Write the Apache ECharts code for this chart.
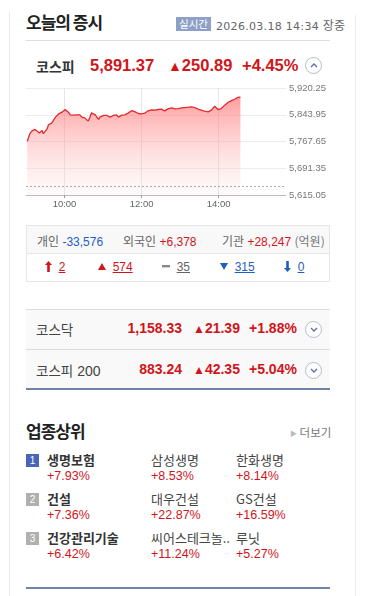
<!DOCTYPE html>
<html><head><meta charset="utf-8">
<script src="https://cdn.jsdelivr.net/npm/echarts@6/dist/echarts.min.js"></script>
<style>
html,body{margin:0;padding:0;background:#fff;}
body{width:366px;height:596px;overflow:hidden;position:relative;font-family:"Liberation Sans","Noto Sans CJK KR",sans-serif;color:#333;}
.a{position:absolute;white-space:nowrap;}
.kr{font-family:"Noto Sans CJK KR",sans-serif;}
.red{color:#d0151b;}
.blue{color:#1f5dc1;}
.circ{position:absolute;width:15px;height:15px;border:1px solid #b5bccb;border-radius:50%;background:#fff;}
.circ svg{position:absolute;left:4px;top:5px;}
u{text-decoration:underline;}
</style></head>
<body>
<div class="a" style="left:9px;top:12px;width:1px;height:584px;background:#ebebeb"></div>
<div class="a" style="left:355px;top:15px;width:1px;height:581px;background:#ebebeb"></div>

<div class="a kr" id="title" style="left:26px;top:9px;font-size:17px;font-weight:bold;color:#222;letter-spacing:-1px"></div>
<div class="a kr" id="badge" style="left:176px;top:17px;width:35px;height:14px;line-height:14px;background:#8ea0c6;color:#fff;font-size:10.5px;text-align:center"></div>
<div class="a" id="stamp" style="left:216px;top:16px;font-size:11px;color:#666;font-family:'DejaVu Sans','Noto Sans CJK KR';letter-spacing:0.3px"></div>
<div class="a" style="left:26px;top:40px;width:304px;height:1px;background:#dedede"></div>

<div class="a kr" id="mainName" style="left:36px;top:56px;font-size:14px;font-weight:bold;color:#333"></div>
<div class="a red" id="mainVal" style="left:90px;top:56px;font-size:16.5px;font-weight:bold"></div>
<div class="a red" id="mainChg" style="left:168px;top:56px;font-size:16.5px;font-weight:bold"></div>
<div class="a red" id="mainPct" style="left:242px;top:56px;font-size:16.5px;font-weight:bold"></div>
<div class="circ" style="left:305px;top:57px"><svg width="8" height="5"><polyline points="1,4 4,1 7,4" fill="none" stroke="#5a6ea8" stroke-width="1.3"/></svg></div>

<div id="chart" class="a" style="left:0;top:80px;width:366px;height:135px"></div>

<div class="a" style="left:26px;top:225px;width:302px;height:55px;border:1px solid #e6e6e6"></div>
<div class="a" style="left:27px;top:226px;width:302px;height:27px;background:#f8f8f8;border-bottom:1px solid #e6e6e6"></div>
<div class="a" id="inv" style="left:37px;top:232px;font-size:12px;color:#666"></div>
<div class="a" id="counts" style="left:27px;top:260px;width:302px;height:18px;font-size:12px"></div>

<div class="a" style="left:26px;top:309px;width:304px;height:80px;background:#f9f9f9;border-top:1px solid #dcdcdc"></div>
<div class="a" style="left:26px;top:349px;width:304px;height:1px;background:#dcdcdc"></div>
<div class="a" style="left:26px;top:388px;width:304px;height:2px;background:#7083a9"></div>
<div id="idxRows"></div>

<div class="a kr" id="secTitle" style="left:26px;top:418px;font-size:17px;font-weight:bold;color:#222;letter-spacing:-1px"></div>
<div class="a kr" style="left:290px;top:424px;font-size:11.5px;color:#777"><span style="font-size:7px;color:#bbb;vertical-align:1px">&#9654;</span> 더보기</div>
<div id="secRows"></div>
<div class="a" style="left:26px;top:587px;width:304px;height:2px;background:#7083a9"></div>

<script>
// ---- KOSPI intraday (time, index) ----
const times = ['09:02','09:04','09:06','09:09','09:12','09:14','09:17','09:21','09:23','09:25','09:27','09:30','09:33','09:35','09:38','09:40','09:43','09:46','09:48','09:51','09:53','09:56','09:58','10:01','10:04','10:06','10:09','10:11','10:14','10:17','10:19','10:22','10:24','10:27','10:30','10:32','10:35','10:37','10:40','10:42','10:45','10:48','10:50','10:53','10:55','10:58','11:01','11:03','11:06','11:08','11:11','11:14','11:16','11:19','11:21','11:24','11:26','11:29','11:32','11:34','11:37','11:39','11:42','11:45','11:47','11:50','11:52','11:55','11:58','12:00','12:03','12:05','12:08','12:10','12:13','12:16','12:18','12:21','12:23','12:26','12:29','12:31','12:34','12:36','12:39','12:41','12:44','12:47','12:49','12:52','12:54','12:57','13:00','13:02','13:05','13:07','13:10','13:13','13:15','13:18','13:20','13:23','13:26','13:28','13:31','13:33','13:36','13:38','13:41','13:44','13:46','13:49','13:51','13:54','13:57','13:59','14:02','14:04','14:07','14:10','14:12','14:15','14:17','14:20','14:22','14:25','14:28','14:30','14:34'];
const kospi = [5768.2,5768.2,5789.9,5797.4,5793.6,5802.2,5799.3,5791.8,5787.0,5799.3,5789.9,5791.8,5804.1,5815.4,5821.1,5820.1,5824.8,5837.1,5841.9,5846.6,5848.5,5851.3,5856.0,5858.9,5857.9,5851.3,5843.7,5848.5,5842.8,5841.9,5843.7,5840.9,5843.7,5837.1,5839.0,5834.3,5830.5,5825.8,5839.0,5849.4,5850.4,5843.7,5840.0,5830.5,5837.1,5842.8,5841.9,5844.7,5841.9,5839.0,5837.1,5835.2,5841.9,5846.6,5843.7,5837.1,5840.0,5842.8,5845.6,5843.7,5846.6,5848.5,5850.4,5856.0,5857.0,5852.2,5846.6,5847.5,5844.7,5846.6,5845.6,5848.5,5850.4,5855.1,5853.2,5857.9,5856.0,5857.0,5858.9,5858.9,5857.9,5859.8,5857.9,5855.1,5858.9,5860.8,5861.7,5863.6,5861.7,5860.8,5864.5,5861.7,5864.5,5863.6,5865.5,5864.5,5866.4,5865.5,5868.3,5866.4,5863.6,5864.5,5862.6,5859.8,5857.9,5857.0,5855.1,5854.1,5851.3,5852.2,5855.1,5857.9,5863.6,5868.3,5865.5,5858.9,5857.9,5861.7,5867.4,5872.1,5874.9,5879.7,5882.5,5884.4,5887.2,5888.2,5891.0,5893.8,5894.5];
const prevClose = 5640.48;
const yTickLabels = ['5,615.05','5,691.35','5,767.65','5,843.95','5,920.25'];
const xTickLabels = ['10:00','12:00','14:00'];
const sessionStart = '09:00', sessionEnd = '15:45';

// ---- header / summary texts ----
const title = '오늘의 증시', badge = '실시간', stamp = '2026.03.18 14:34 장중';
const mainIndex = ['코스피', '5,891.37', '250.89', '+4.45%'];
const investors = [['개인','-33,576'],['외국인','+6,378'],['기관','+28,247']];
const breadth = ['2','574','35','315','0'];
const idxNames = ['코스닥','코스피 200'];
const idxValues = ['1,158.33','883.24'];
const idxChanges = ['21.39','42.35'];
const idxPcts = ['+1.88%','+5.04%'];
const sectorNames = ['생명보험','건설','건강관리기술'];
const sectorPcts = ['+7.93%','+7.36%','+6.42%'];
const stock1Names = ['삼성생명','대우건설','씨어스테크놀..'];
const stock1Pcts = ['+8.53%','+22.87%','+11.24%'];
const stock2Names = ['한화생명','GS건설','루닛'];
const stock2Pcts = ['+8.14%','+16.59%','+5.27%'];

// ---- HTML parts ----
const $ = id => document.getElementById(id);
$('title').textContent = title;
$('badge').textContent = badge;
$('stamp').innerHTML = stamp.replace('장중','<span class="kr" style="font-size:12px">장중</span>');
$('mainName').textContent = mainIndex[0];
$('mainVal').textContent = mainIndex[1];
$('mainChg').innerHTML = '<span style="font-size:14px">&#9650;</span>' + mainIndex[2];
$('mainPct').textContent = mainIndex[3];

const invX = [0, 86, 185];
$('inv').innerHTML = investors.map((p,i)=>{
  const cls = p[1][0]==='-' ? 'blue' : 'red';
  return '<span class="a" style="left:'+invX[i]+'px;top:0"><span class="kr">'+p[0]+'</span> <span class="'+cls+'">'+p[1]+'</span>'+(i===2?' <span class="kr" style="color:#777">(억원)</span>':'')+'</span>';
}).join('');

const upArrow = '<svg width="7" height="11" style="vertical-align:-1px"><polygon points="3.5,0 7,4 4.8,4 4.8,11 2.2,11 2.2,4 0,4" fill="#d0151b"/></svg>';
const dnArrow = '<svg width="7" height="11" style="vertical-align:-1px"><polygon points="3.5,11 7,7 4.8,7 4.8,0 2.2,0 2.2,7 0,7" fill="#1f5dc1"/></svg>';
const upTri = '<svg width="8" height="7" style="vertical-align:1px"><polygon points="4,0 8,7 0,7" fill="#d0151b"/></svg>';
const dnTri = '<svg width="8" height="7" style="vertical-align:1px"><polygon points="0,0 8,0 4,7" fill="#1f5dc1"/></svg>';
const flat = '<svg width="8" height="3" style="vertical-align:3px"><rect width="8" height="2.4" fill="#888"/></svg>';
const bX = [18, 71, 135, 193, 257];
const bIcon = [upArrow, upTri, flat, dnTri, dnArrow];
const bCls = ['red','red','','blue','blue'];
$('counts').innerHTML = breadth.map((v,i)=>'<span class="a '+bCls[i]+'" style="left:'+bX[i]+'px;top:0;'+(i===2?'color:#666':'')+'">'+bIcon[i]+'&nbsp;&nbsp;<u>'+v+'</u></span>').join('');

let h = '';
idxNames.forEach((n,i)=>{
  const y = 320 + i*41;
  h += '<div class="a kr" style="left:36px;top:'+(y-1)+'px;font-size:13.5px;color:#444">'+n.replace(' 200','<span style="font-family:Liberation Sans;font-size:14px"> 200</span>')+'</div>';
  h += '<div class="a red" style="right:184px;top:'+y+'px;font-size:14px;font-weight:bold">'+idxValues[i]+'</div>';
  h += '<div class="a red" style="left:193px;top:'+y+'px;font-size:14px;font-weight:bold"><span style="font-size:12px">&#9650;</span>'+idxChanges[i]+'</div>';
  h += '<div class="a red" style="left:249px;top:'+y+'px;font-size:14px;font-weight:bold">'+idxPcts[i]+'</div>';
  h += '<div class="circ" style="left:305px;top:'+(y+1)+'px"><svg width="8" height="5"><polyline points="1,1 4,4 7,1" fill="none" stroke="#5a6ea8" stroke-width="1.3"/></svg></div>';
});
$('idxRows').innerHTML = h;
$('secTitle').textContent = '업종상위';

h = '';
sectorNames.forEach((n,i)=>{
  const y = 452 + i*39;
  h += '<div class="a" style="left:26px;top:'+(y+2)+'px;width:13px;height:13px;line-height:13px;text-align:center;color:#fff;font-size:10px;background:'+(i===0?'#4b66b8':'#b0b0b0')+'">'+(i+1)+'</div>';
  h += '<div class="a kr" style="left:47px;top:'+(y-2)+'px;font-size:13px;font-weight:bold;color:#333">'+n+'</div>';
  h += '<div class="a red" style="left:47px;top:'+(y+17)+'px;font-size:12.5px">'+sectorPcts[i]+'</div>';
  h += '<div class="a kr" style="left:151px;top:'+(y-2)+'px;font-size:13px;color:#444">'+stock1Names[i]+'</div>';
  h += '<div class="a red" style="left:151px;top:'+(y+17)+'px;font-size:12.5px">'+stock1Pcts[i]+'</div>';
  h += '<div class="a kr" style="left:236px;top:'+(y-2)+'px;font-size:13px;color:#444">'+stock2Names[i]+'</div>';
  h += '<div class="a red" style="left:236px;top:'+(y+17)+'px;font-size:12.5px">'+stock2Pcts[i]+'</div>';
});
$('secRows').innerHTML = h;

// ---- chart ----
const toMin = t => { const p = t.split(':').map(Number); return p[0]*60 + p[1]; };
const yBase = parseFloat(yTickLabels[0].replace(/,/g,''));
const yStep = parseFloat(yTickLabels[1].replace(/,/g,'')) - yBase;
const seriesData = times.map((t,i)=>[toMin(t), +(kospi[i]-yBase).toFixed(2)]);
const xTickVals = xTickLabels.map(toMin);
const pad = n => (n<10?'0':'')+n;

const chart = echarts.init(document.getElementById('chart'));
chart.setOption({
  animation:false,
  grid:{left:26, right:80, top:8, height:107},
  xAxis:{
    type:'value', min:toMin(sessionStart), max:toMin(sessionEnd),
    axisLine:{show:true, lineStyle:{color:'#bdbdbd'}},
    axisTick:{show:true, customValues:xTickVals, length:3, lineStyle:{color:'#999'}},
    axisLabel:{customValues:xTickVals, formatter:v=>pad(Math.floor(v/60))+':'+pad(v%60), color:'#666', fontSize:9.5, margin:4, fontFamily:'Liberation Sans'},
    splitLine:{show:true, lineStyle:{color:'#e6e6e6'}}
  },
  yAxis:{
    type:'value', position:'right', min:0, max:yStep*(yTickLabels.length-1), interval:yStep,
    axisLine:{show:false}, axisTick:{show:false},
    axisLabel:{formatter:(v)=>yTickLabels[Math.round(v/yStep)], color:'#777', fontSize:9.5, margin:3, fontFamily:'Liberation Sans'},
    splitLine:{lineStyle:{color:'#ececec'}}
  },
  series:[{
    type:'line', data:seriesData, showSymbol:false, silent:true,
    lineStyle:{color:'#e5282d', width:1.3},
    areaStyle:{color:new echarts.graphic.LinearGradient(0,0,0,1,[
      {offset:0, color:'rgba(255,100,100,0.9)'},
      {offset:1, color:'rgba(255,235,235,0.35)'}
    ])},
    markLine:{silent:true, symbol:'none', label:{show:false},
      lineStyle:{type:[2,2], color:'#aaa', width:1},
      data:[{yAxis: prevClose - yBase}]}
  }]
});
</script>
</body></html>
